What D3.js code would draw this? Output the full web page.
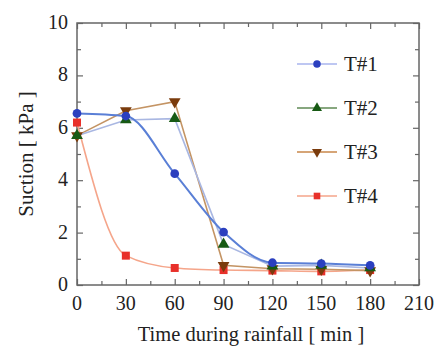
<!DOCTYPE html>
<html>
<head>
<meta charset="utf-8">
<script src="https://cdn.jsdelivr.net/npm/d3@7"></script>
<style>
  body { margin: 0; background: #fff; }
</style>
</head>
<body>
<svg id="chart" width="438" height="348" font-family="'Liberation Serif', 'Times New Roman', serif"></svg>
<script>
// data
var times = [0, 30, 60, 90, 120, 150, 180];
var t1 = [6.55, 6.45, 4.25, 2.02, 0.85, 0.82, 0.75];
var t2 = [5.7, 6.3, 6.35, 1.55, 0.72, 0.75, 0.65];
var t3 = [5.7, 6.65, 7.0, 0.75, 0.62, 0.6, 0.55];
var t4 = [6.2, 1.12, 0.65, 0.57, 0.55, 0.52, 0.57];
var names = ["T#1", "T#2", "T#3", "T#4"];
var xTicks = [0, 30, 60, 90, 120, 150, 180, 210];
var yTicks = [0, 2, 4, 6, 8, 10];

var lineColors = ["#5a7fd6", "#a9b7e2", "#c49464", "#f5a58a"];
var legendLineColors = ["#a9b4ee", "#5f8a55", "#c9874a", "#f5a58a"];
var markColors = ["#2b3fbf", "#175a14", "#7a3b0c", "#e8302a"];
var shapes = [d3.symbolCircle, d3.symbolTriangle, "down", d3.symbolSquare];
var curves = [d3.curveMonotoneX, d3.curveLinear, d3.curveLinear, d3.curveMonotoneX];

var series = [t1, t2, t3, t4];

var margin = {left: 77, top: 23, right: 19, bottom: 63};
var svg = d3.select("#chart");
var W = 438 - margin.left - margin.right, H = 348 - margin.top - margin.bottom;
var g = svg.append("g").attr("transform", "translate(" + margin.left + "," + margin.top + ")");

var x = d3.scaleLinear().domain([0, 210]).range([0, W]);
var y = d3.scaleLinear().domain([0, 10]).range([H, 0]);

// frame
g.append("rect").attr("width", W).attr("height", H)
  .attr("fill", "none").attr("stroke", "#666").attr("stroke-width", 1.5);

// ticks inward on all sides
function ticks(axisFn, scale, vals, len, tr) {
  var a = axisFn(scale).tickValues(vals).tickSize(-len).tickFormat("");
  var gg = g.append("g").attr("transform", tr).call(a);
  gg.select(".domain").remove();
  gg.selectAll("line").attr("stroke", "#666").attr("stroke-width", 1.2);
}
var xMinor = d3.range(15, 210, 30), yMinor = d3.range(1, 10, 2);
ticks(d3.axisBottom, x, xTicks, 6, "translate(0," + H + ")");
ticks(d3.axisBottom, x, xMinor, 4, "translate(0," + H + ")");
ticks(d3.axisTop, x, xTicks, 6, "translate(0,0)");
ticks(d3.axisTop, x, xMinor, 4, "translate(0,0)");
ticks(d3.axisLeft, y, yTicks, 6, "translate(0,0)");
ticks(d3.axisLeft, y, yMinor, 4, "translate(0,0)");
ticks(d3.axisRight, y, yTicks, 6, "translate(" + W + ",0)");
ticks(d3.axisRight, y, yMinor, 4, "translate(" + W + ",0)");

// tick labels
g.selectAll("text.xl").data(xTicks).enter().append("text")
  .attr("x", function(d) { return x(d); }).attr("y", H + 25).attr("fill", "#222")
  .attr("text-anchor", "middle").attr("font-size", "20px").text(function(d) { return d; });
g.selectAll("text.yl").data(yTicks).enter().append("text")
  .attr("x", -9).attr("y", function(d) { return y(d) + 6; }).attr("fill", "#222")
  .attr("text-anchor", "end").attr("font-size", "20px").text(function(d) { return d; });

// axis titles
g.append("text").attr("x", W / 2 + 3).attr("y", H + 56).attr("text-anchor", "middle").attr("fill", "#222")
  .attr("font-size", "20.5px").text("Time during rainfall [ min ]");
g.append("text").attr("transform", "translate(-44," + (H / 2) + ") rotate(-90)").attr("fill", "#222")
  .attr("text-anchor", "middle").attr("font-size", "21px").text("Suction [ kPa ]");

function sym(i, size) {
  if (shapes[i] === "down") return d3.symbol().type(d3.symbolTriangle).size(size)();
  return d3.symbol().type(shapes[i]).size(size)();
}
var sizes = [60, 60, 60, 64];

// draw T#4 first so others lie on top
[3, 2, 1, 0].forEach(function(k) {
  var line = d3.line().x(function(d, i) { return x(times[i]); }).y(function(d) { return y(d); })
    .curve(curves[k]);
  g.append("path").datum(series[k]).attr("d", line)
    .attr("fill", "none").attr("stroke", lineColors[k]).attr("stroke-width", k === 0 ? 2 : 1.6);
});
[3, 2, 1, 0].forEach(function(k) {
  g.selectAll("path.m" + k).data(series[k]).enter().append("path")
    .attr("d", sym(k, sizes[k]))
    .attr("transform", function(d, i) {
      return "translate(" + x(times[i]) + "," + y(d) + ")" + (shapes[k] === "down" ? " rotate(180)" : "");
    })
    .attr("fill", markColors[k]);
});

// legend
var leg = svg.append("g").attr("transform", "translate(297,64)");
names.forEach(function(n, k) {
  var row = leg.append("g").attr("transform", "translate(0," + (k * 44) + ")");
  row.append("line").attr("x1", 0).attr("x2", 40).attr("stroke", legendLineColors[k]).attr("stroke-width", 1.4);
  row.append("path").attr("d", sym(k, 44))
    .attr("transform", "translate(20,0)" + (shapes[k] === "down" ? " rotate(180)" : ""))
    .attr("fill", markColors[k]);
  row.append("text").attr("x", 47).attr("y", 7).attr("fill", "#222").attr("font-size", "21px").text(n);
});
</script>
</body>
</html>
